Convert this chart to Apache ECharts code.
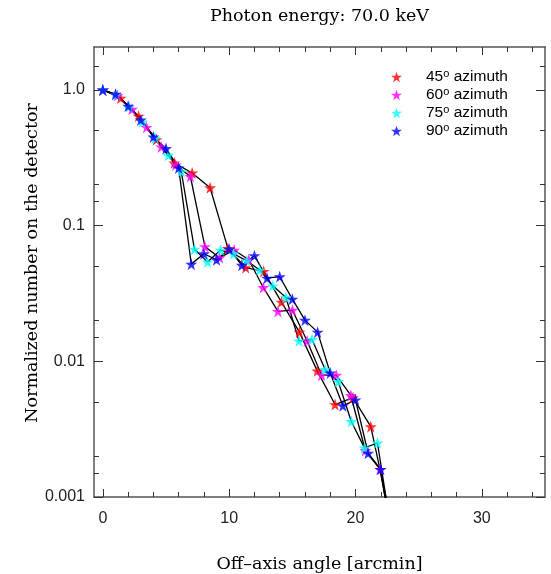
<!DOCTYPE html>
<html>
<head>
<meta charset="utf-8">
<script src="https://cdn.jsdelivr.net/npm/echarts@6/dist/echarts.min.js"></script>
<style>
  html, body { margin: 0; padding: 0; background: #fff; }
  #main { width: 551px; height: 574px; }
</style>
</head>
<body>
<div id="main"></div>
<script>
// off-axis angle [arcmin] and normalized counts, one pair per azimuth
var x45 = [0, 1.41, 2.83, 4.24, 5.66, 7.07, 8.49, 9.9, 11.31, 12.73, 14.14, 15.56, 16.97, 18.38, 19.8, 21.21, 22.63];
var y45 = [1.0, 0.87, 0.64, 0.43, 0.29, 0.244, 0.19, 0.068, 0.049, 0.046, 0.0273, 0.0164, 0.0085, 0.0048, 0.0054, 0.0033, 0.0008];

var x60 = [0, 1.15, 2.31, 3.46, 4.62, 5.77, 6.93, 8.08, 9.24, 10.39, 11.55, 12.7, 13.86, 15.01, 16.17, 17.32, 18.48, 19.63, 20.78, 21.94, 23.09];
var y60 = [1.0, 0.91, 0.72, 0.53, 0.38, 0.28, 0.23, 0.070, 0.058, 0.066, 0.056, 0.035, 0.0233, 0.0238, 0.0141, 0.0079, 0.0079, 0.0056, 0.0022, 0.0016, 0.0004];

var x75 = [0, 1.04, 2.07, 3.11, 4.14, 5.18, 6.21, 7.25, 8.28, 9.32, 10.35, 11.39, 12.42, 13.46, 14.49, 15.53, 16.56, 17.6, 18.63, 19.67, 20.71, 21.74, 22.78];
var y75 = [1.0, 0.92, 0.75, 0.58, 0.44, 0.33, 0.25, 0.067, 0.054, 0.066, 0.062, 0.055, 0.047, 0.036, 0.0295, 0.0141, 0.0145, 0.0087, 0.0071, 0.0036, 0.0023, 0.0025, 0.0006];

var x90 = [0, 1, 2, 3, 4, 5, 6, 7, 8, 9, 10, 11, 12, 13, 14, 15, 16, 17, 18, 19, 20, 21, 22, 23];
var y90 = [1.0, 0.93, 0.76, 0.6, 0.45, 0.37, 0.266, 0.052, 0.062, 0.056, 0.067, 0.051, 0.060, 0.041, 0.042, 0.0287, 0.0201, 0.0164, 0.0082, 0.0047, 0.0052, 0.0021, 0.0016, 0.0004];

var azimuths = ['45', '60', '75', '90'];
var colors = ['#ff0000', '#ff00ff', '#00ffff', '#0000ff'];

var xMajorTicks = [0, 10, 20, 30];
var xMinorTicks = [2, 4, 6, 8, 12, 14, 16, 18, 22, 24, 26, 28, 32, 34];
var yMajorTicks = [0.001, 0.01, 0.1, 1];
var yMinorTicks = [0.0015, 0.002, 0.005, 0.015, 0.02, 0.05, 0.15, 0.2, 0.5, 1.5];

var star = 'path://M50,2 L61.8,36.2 L97.6,36.2 L68.6,57.4 L79.4,91.6 L50,70.4 L20.6,91.6 L31.4,57.4 L2.4,36.2 L38.2,36.2 Z';
var serif = 'DejaVu Serif';
var sans = 'Liberation Sans';

function pairs(xs, ys) {
  var out = [];
  for (var i = 0; i < xs.length; i++) out.push([xs[i], ys[i]]);
  return out;
}
var allData = [pairs(x45, y45), pairs(x60, y60), pairs(x75, y75), pairs(x90, y90)];

var axisColor = '#555';

function xAx(pos, ticks, len, major) {
  return {
    type: 'value', position: pos, min: -0.7, max: 35,
    axisLine: { show: major, onZero: false, lineStyle: { color: axisColor, width: 1.5 } },
    axisTick: { show: true, inside: true, length: len, customValues: ticks, lineStyle: { color: '#333', width: 1 } },
    axisLabel: { show: major && pos == 'bottom', customValues: xMajorTicks, fontFamily: sans, fontSize: 16, color: '#222', margin: 14 },
    splitLine: { show: false }
  };
}
function yAx(pos, ticks, len, major) {
  return {
    type: 'log', logBase: 10, position: pos, min: 0.001, max: 2.07,
    axisLine: { show: major, onZero: false, lineStyle: { color: axisColor, width: 1.5 } },
    axisTick: { show: true, inside: true, length: len, customValues: ticks, lineStyle: { color: '#333', width: 1 } },
    axisLabel: {
      show: major && pos == 'left', customValues: yMajorTicks, fontFamily: sans, fontSize: 16, color: '#222', margin: 9,
      formatter: function (v) { return v == 1 ? '1.0' : String(v); }
    },
    splitLine: { show: false }
  };
}

var nameStyle = { fontFamily: serif, fontSize: 17.5, color: '#000' };

var xAxes = [xAx('bottom', xMajorTicks, 8, true), xAx('bottom', xMinorTicks, 5, false),
             xAx('top', xMajorTicks, 8, true), xAx('top', xMinorTicks, 5, false)];
xAxes[0].name = 'Off\u2013axis angle [arcmin]';
xAxes[0].nameLocation = 'middle';
xAxes[0].nameGap = 58;
xAxes[0].nameTextStyle = nameStyle;
xAxes[2].name = 'Photon energy: 70.0 keV';
xAxes[2].nameLocation = 'middle';
xAxes[2].nameGap = 22;
xAxes[2].nameTextStyle = nameStyle;

var yAxes = [yAx('left', yMajorTicks, 9, true), yAx('left', yMinorTicks, 5, false),
             yAx('right', yMajorTicks, 9, true), yAx('right', yMinorTicks, 5, false)];
yAxes[0].name = 'Normalized number on the detector';
yAxes[0].nameLocation = 'middle';
yAxes[0].nameGap = 53;
yAxes[0].nameMoveOverlap = false;
yAxes[0].nameTextStyle = { fontFamily: serif, fontSize: 17.5, color: '#000', padding: [0, 0, 0, 18] };

var series = [];
for (var i = 0; i < 4; i++) {
  series.push({
    name: 'line' + azimuths[i], type: 'line', data: allData[i],
    showSymbol: false, z: 2, silent: true,
    lineStyle: { color: '#000', width: 1.3 }
  });
}
for (var j = 0; j < 4; j++) {
  series.push({
    name: azimuths[j], type: 'scatter', data: allData[j],
    symbol: star, symbolSize: 12, z: 3 + j,
    itemStyle: { color: colors[j] }
  });
}

var myChart = echarts.init(document.getElementById('main'));
var option = {
  animation: false,
  backgroundColor: '#fff',
  grid: { left: 94, right: 6, top: 47, bottom: 77, outerBoundsMode: 'none', containLabel: false },
  xAxis: xAxes,
  yAxis: yAxes,
  legend: {
    data: azimuths,
    orient: 'vertical',
    left: 386, top: 63,
    itemWidth: 11, itemHeight: 11, itemGap: 1,
    icon: star,
    selectedMode: false,
    formatter: function (n) { return n + '{s|o} azimuth'; },
    textStyle: {
      fontFamily: sans, fontSize: 15.5, color: '#000', padding: [0, 0, 0, 19],
      rich: { s: { fontFamily: sans, fontSize: 11, color: '#000', padding: [0, 0, 7, 0] } }
    }
  },
  series: series
};
myChart.setOption(option);
</script>
</body>
</html>
